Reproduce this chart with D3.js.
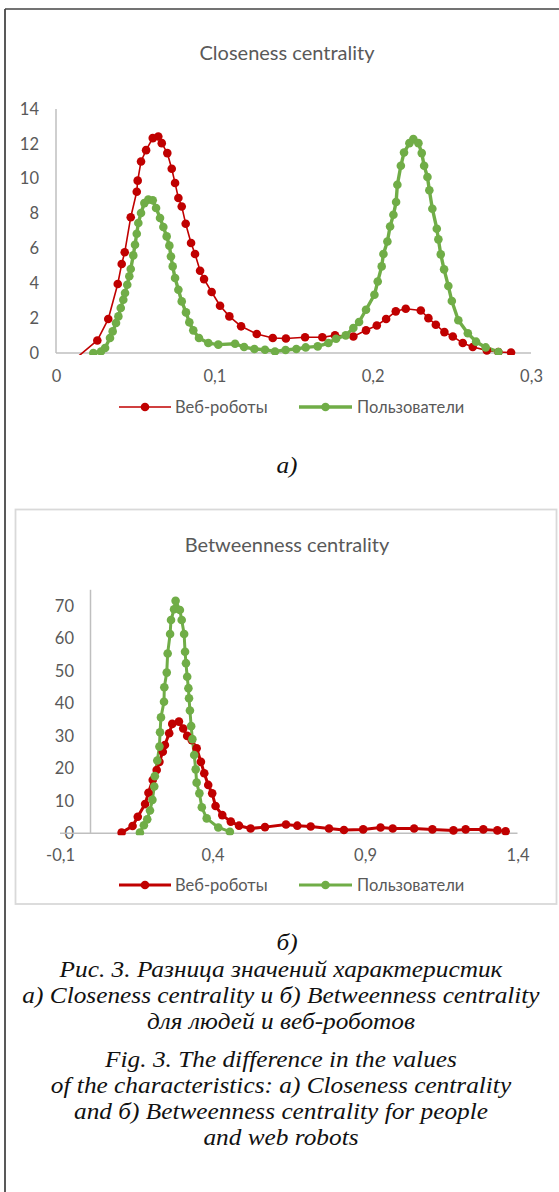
<!DOCTYPE html>
<html><head><meta charset="utf-8">
<script src="https://cdn.jsdelivr.net/npm/d3@7"></script>
<style>
html,body{margin:0;padding:0;background:#fff;}
svg{display:block;}
</style></head>
<body>
<svg id="c" width="559" height="1192"></svg>
<script>
// ---------- DATA ----------
const seriesNames = ["Веб-роботы", "Пользователи"];
const chartTitles = ["Closeness centrality", "Betweenness centrality"];
const closenessXTicks = [0, 0.1, 0.2, 0.3];
const closenessYTicks = [0, 2, 4, 6, 8, 10, 12, 14];
const betweennessXTicks = [-0.1, 0.4, 0.9, 1.4];
const betweennessYTicks = [0, 10, 20, 30, 40, 50, 60, 70];

const closenessRobots = [[0.010,-0.5],[0.0261,0.72],[0.033,1.95],[0.039,3.96],[0.0415,5.11],[0.0434,5.78],[0.0472,7.79],[0.051,9.25],[0.0516,9.89],[0.0537,10.99],[0.0569,11.64],[0.0611,12.33],[0.0646,12.42],[0.0668,12.04],[0.0703,11.47],[0.0731,10.57],[0.0752,9.75],[0.0773,8.89],[0.0794,8.41],[0.0819,7.42],[0.0853,6.31],[0.0878,5.68],[0.091,4.72],[0.0935,4.24],[0.0983,3.5],[0.1036,2.71],[0.1095,2.1],[0.1169,1.53],[0.1268,1.09],[0.1369,0.86],[0.1452,0.83],[0.1573,0.9],[0.1682,0.9],[0.1762,1.01],[0.1878,0.95],[0.1958,1.3],[0.2026,1.58],[0.2085,1.95],[0.2146,2.39],[0.2209,2.54],[0.2304,2.44],[0.2352,2.0],[0.2399,1.62],[0.2453,1.2],[0.2506,0.95],[0.2569,0.57],[0.2632,0.34],[0.2721,0.15],[0.2794,0.06],[0.2874,0.03]];
const closenessUsers = [[0.0236,0.0],[0.0284,0.09],[0.031,0.29],[0.0341,0.86],[0.0358,1.24],[0.0379,1.72],[0.0394,2.1],[0.0409,2.58],[0.0425,3.06],[0.0436,3.44],[0.045,3.92],[0.0463,4.4],[0.0472,4.82],[0.0488,5.6],[0.0499,6.21],[0.051,6.84],[0.052,7.46],[0.0537,8.03],[0.0558,8.6],[0.0583,8.8],[0.0611,8.76],[0.0632,8.32],[0.0657,7.75],[0.0678,7.23],[0.0699,6.69],[0.0716,6.16],[0.0726,5.54],[0.0737,4.97],[0.0752,4.3],[0.0773,3.63],[0.0794,2.96],[0.0821,2.33],[0.0842,1.76],[0.0867,1.3],[0.0903,0.86],[0.0962,0.57],[0.1025,0.48],[0.1131,0.53],[0.1188,0.34],[0.1253,0.23],[0.132,0.19],[0.1383,0.09],[0.145,0.17],[0.1518,0.23],[0.1577,0.32],[0.1653,0.38],[0.172,0.57],[0.1769,0.82],[0.183,1.01],[0.1878,1.43],[0.1914,1.78],[0.1958,2.48],[0.2011,3.34],[0.2032,4.1],[0.2057,4.97],[0.2068,5.68],[0.2093,6.4],[0.211,7.26],[0.2131,7.93],[0.2148,8.66],[0.2156,9.65],[0.2178,10.74],[0.2198,11.5],[0.2232,12.04],[0.2257,12.27],[0.2289,12.04],[0.231,11.47],[0.2325,10.74],[0.2346,10.1],[0.2358,9.34],[0.2377,8.28],[0.2405,7.13],[0.2415,6.52],[0.243,5.66],[0.2451,4.8],[0.2478,3.84],[0.25,2.98],[0.2541,1.88],[0.2601,1.13],[0.2653,0.65],[0.2714,0.32],[0.2794,0.06]];

const betweennessRobots = [[0.102,0.2],[0.138,2.25],[0.155,5.1],[0.179,9.0],[0.19,12.5],[0.204,16.4],[0.217,19.5],[0.226,22],[0.237,25.1],[0.244,27.2],[0.258,30.8],[0.268,33.7],[0.29,34.4],[0.304,32.3],[0.317,30],[0.332,28.7],[0.348,26.2],[0.362,22],[0.373,18.5],[0.386,14.9],[0.399,12.3],[0.41,8.4],[0.432,5.6],[0.46,3.6],[0.487,2.35],[0.525,1.5],[0.572,1.9],[0.641,2.7],[0.678,2.35],[0.722,2.1],[0.782,1.5],[0.831,1.0],[0.894,1.2],[0.951,1.8],[0.991,1.5],[1.061,1.5],[1.121,1.2],[1.19,0.9],[1.23,1.2],[1.288,1.2],[1.334,0.9],[1.361,0.6]];
const betweennessUsers = [[0.162,0.2],[0.175,2.5],[0.186,4.3],[0.195,7.0],[0.203,10.3],[0.209,14.4],[0.211,17.6],[0.219,22.4],[0.226,26.7],[0.228,31.1],[0.231,35.7],[0.241,40.5],[0.242,45],[0.25,49.5],[0.253,55.4],[0.261,61.4],[0.264,65.7],[0.274,69],[0.279,71.6],[0.293,68.8],[0.299,65.7],[0.307,61.4],[0.31,55.9],[0.313,52.4],[0.317,48.2],[0.321,44.7],[0.323,41.6],[0.326,37.8],[0.33,33],[0.334,29],[0.34,24.1],[0.345,19.7],[0.348,15.6],[0.357,12.3],[0.365,8.0],[0.381,4.6],[0.419,1.8],[0.457,0.5]];

const captionLetters = ["а)", "б)"];
const captionLines = [
  "Рис. 3. Разница значений характеристик",
  "а) Closeness centrality и б) Betweenness centrality",
  "для людей и веб-роботов",
  "Fig. 3. The difference in the values",
  "of the characteristics: а) Closeness centrality",
  "and б) Betweenness centrality for people",
  "and web robots"
];

// ---------- STYLE ----------
const RED = "#C00000", GREEN = "#70AD47", TXT = "#595959", AX = "#BFBFBF";
const UI = "Lato, 'Open Sans', sans-serif";
const SERIF = "'Liberation Serif', 'Times New Roman', serif";
const TICK_SIZE = 16.5, LEGEND_SIZE = 16.5, TITLE_SIZE = 20;
const CAP_SIZE = 22.4, CAP_STRETCH = 1.13;

const svg = d3.select("#c");
const fmt = v => String(v).replace(".", ",");

// page borders
svg.append("line").attr("x1",5).attr("x2",5).attr("y1",9).attr("y2",1192).attr("stroke","#222").attr("stroke-width",1.5);
svg.append("line").attr("x1",5).attr("x2",559).attr("y1",9).attr("y2",9).attr("stroke","#444").attr("stroke-width",1.5);

function drawChart(cfg){
  const g = svg.append("g");
  const x = d3.scaleLinear().domain(cfg.xDomain).range(cfg.xRange);
  const y = d3.scaleLinear().domain(cfg.yDomain).range(cfg.yRange);
  if (cfg.box) {
    g.append("rect").attr("x",cfg.box[0]).attr("y",cfg.box[1]).attr("width",cfg.box[2]).attr("height",cfg.box[3])
      .attr("fill","none").attr("stroke","#D9D9D9").attr("stroke-width",1.8);
  }
  g.append("text").attr("x",287).attr("y",cfg.titleY).attr("text-anchor","middle")
    .attr("font-family",UI).attr("font-size",TITLE_SIZE).attr("fill",TXT).text(cfg.title);

  const yAxis = d3.axisLeft(y).tickValues(cfg.yTicks).tickSize(0).tickPadding(0).tickFormat(fmt);
  const ya = g.append("g").attr("transform",`translate(${cfg.yLabelX},0)`).call(yAxis);
  ya.select(".domain").remove();
  ya.selectAll("text").attr("font-family",UI).attr("font-size",TICK_SIZE).attr("fill",TXT);
  g.append("line").attr("x1",x(0)).attr("x2",x(0)).attr("y1",y(cfg.yDomain[1])).attr("y2",y(0))
    .attr("stroke",AX).attr("stroke-width",1.5);
  const xAxis = d3.axisBottom(x).tickValues(cfg.xTicks).tickSize(0).tickPadding(0).tickFormat(fmt);
  const xa = g.append("g").attr("transform",`translate(0,${cfg.xLabelY})`).call(xAxis);
  xa.select(".domain").remove();
  xa.selectAll("text").attr("font-family",UI).attr("font-size",TICK_SIZE).attr("fill",TXT);
  g.append("line").attr("x1",x(cfg.xDomain[0])).attr("x2",x(cfg.xDomain[1])).attr("y1",y(0)).attr("y2",y(0))
    .attr("stroke",AX).attr("stroke-width",1.5);

  const clipId = "clip" + cfg.id;
  svg.append("clipPath").attr("id",clipId).append("rect")
    .attr("x",cfg.xRange[0]-10).attr("y",y(cfg.yDomain[1])-10)
    .attr("width",cfg.xRange[1]-cfg.xRange[0]+20).attr("height",y(0)-y(cfg.yDomain[1])+12);
  const plot = g.append("g").attr("clip-path",`url(#${clipId})`);
  const line = d3.line().x(d=>x(d[0])).y(d=>y(d[1]));
  cfg.series.forEach(s=>{
    plot.append("path").datum(s.data).attr("d",line).attr("fill","none")
      .attr("stroke",s.color).attr("stroke-width",s.width).attr("stroke-linejoin","round");
  });
  cfg.series.forEach(s=>{
    plot.selectAll(null).data(s.data).enter().append("circle")
      .attr("cx",d=>x(d[0])).attr("cy",d=>y(d[1])).attr("r",4.3).attr("fill",s.color);
  });

  const lg = g.append("g").attr("transform",`translate(0,${cfg.legendY})`);
  const legendPos = [[119,171,175],[299,352,357]];
  cfg.series.forEach((s,i)=>{
    const [a,b,t] = legendPos[i];
    lg.append("line").attr("x1",a).attr("x2",b).attr("y1",0).attr("y2",0).attr("stroke",s.color).attr("stroke-width",s.width);
    lg.append("circle").attr("cx",(a+b)/2).attr("cy",0).attr("r",4.3).attr("fill",s.color);
    lg.append("text").attr("x",t).attr("y",0).attr("dy","0.35em").attr("font-family",UI).attr("font-size",LEGEND_SIZE)
      .attr("fill",TXT).text(seriesNames[i]);
  });
}

drawChart({
  id:"a", title:chartTitles[0], titleY:60,
  xDomain:[0,0.3], xRange:[56,531], yDomain:[0,14], yRange:[353,109],
  xTicks:closenessXTicks, yTicks:closenessYTicks, yLabelX:39, xLabelY:370, legendY:407,
  series:[{data:closenessRobots,color:RED,width:1.6},{data:closenessUsers,color:GREEN,width:3.4}]
});
drawChart({
  id:"b", title:chartTitles[1], titleY:552, box:[15.5,509.5,541,394.5],
  xDomain:[-0.1,1.4], xRange:[60,517.5], yDomain:[0,75], yRange:[833.3,589.8],
  xTicks:betweennessXTicks, yTicks:betweennessYTicks, yLabelX:74, xLabelY:849, legendY:885,
  series:[{data:betweennessRobots,color:RED,width:3},{data:betweennessUsers,color:GREEN,width:3}]
});

// captions (glyphs slightly widened to the reference's text width while keeping line boxes apart)
function capText(t, cx, cy){
  const el = svg.append("text").attr("x",cx).attr("y",cy).attr("text-anchor","middle").attr("font-family",SERIF)
    .attr("font-style","italic").attr("font-size",CAP_SIZE).attr("fill","#111").text(t);
  const w = el.node().getComputedTextLength();
  el.attr("textLength", w*CAP_STRETCH).attr("lengthAdjust","spacingAndGlyphs");
}
[[captionLetters[0],473],[captionLetters[1],950]].forEach(([t,yy])=>capText(t,287,yy));
const capY = [977, 1003, 1029, 1067, 1093, 1119, 1145];
captionLines.forEach((t,i)=>capText(t,281,capY[i]));
</script>
</body></html>
